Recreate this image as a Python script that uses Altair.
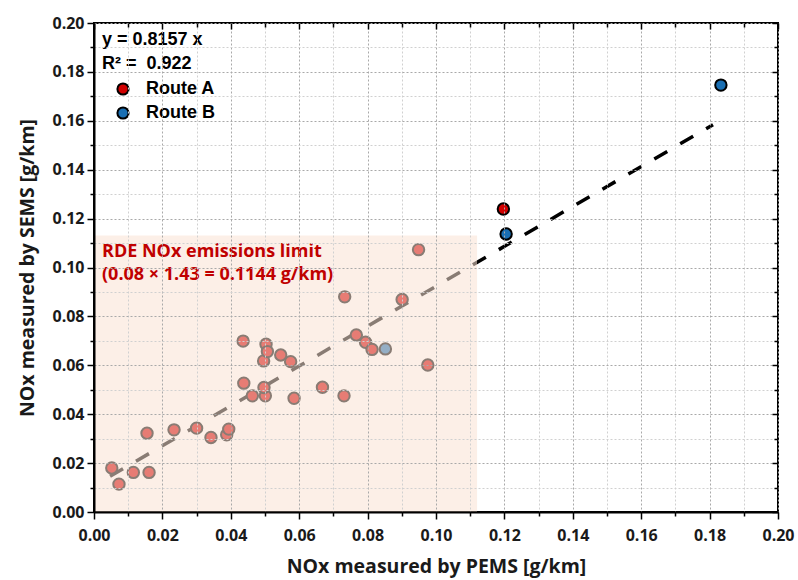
import altair as alt
import pandas as pd

# ---- data ----
route_a_x = [0.0052, 0.0073, 0.0115, 0.0161, 0.0155, 0.0234, 0.0300, 0.0342, 0.0388, 0.0394,
             0.0436, 0.0438, 0.0463, 0.0501, 0.0497, 0.0496, 0.0503, 0.0507, 0.0546, 0.0575,
             0.0585, 0.0668, 0.0733, 0.0731, 0.0767, 0.0794, 0.0813, 0.0901, 0.0949, 0.0976,
             0.1197]
route_a_y = [0.0180, 0.0114, 0.0162, 0.0162, 0.0322, 0.0336, 0.0343, 0.0305, 0.0316, 0.0339,
             0.0699, 0.0527, 0.0475, 0.0475, 0.0509, 0.0618, 0.0686, 0.0656, 0.0642, 0.0615,
             0.0465, 0.0510, 0.0880, 0.0475, 0.0724, 0.0694, 0.0665, 0.0869, 0.1073, 0.0601,
             0.1239]
route_b_x = [0.0852, 0.1205, 0.1833]
route_b_y = [0.0667, 0.1137, 0.1746]

fit_x = [0.0047, 0.1810]
fit_y = [0.0146, 0.1584]

limit_x = [0.0, 0.1120]
limit_y = [0.0, 0.1131]

tick_values = [0.00, 0.01, 0.02, 0.03, 0.04, 0.05, 0.06, 0.07, 0.08, 0.09, 0.10,
               0.11, 0.12, 0.13, 0.14, 0.15, 0.16, 0.17, 0.18, 0.19, 0.20]

legend_title = ["y = 0.8157 x", "R\u00b2 =\u00a0\u00a00.922"]
route_names = ["Route A", "Route B"]
route_colors = ["#d10000", "#1a6fb3"]
limit_label = "RDE NOx emissions limit\n(0.08 \u00d7 1.43 = 0.1144 g/km)"

# ---- tables ----
points = pd.DataFrame({
    "pems": route_a_x + route_b_x,
    "sems": route_a_y + route_b_y,
    "route": [route_names[0]] * len(route_a_x) + [route_names[1]] * len(route_b_x),
})
fit = pd.DataFrame({"pems": fit_x, "sems": fit_y})
limit = pd.DataFrame({"x0": [limit_x[0]], "x1": [limit_x[1]], "y0": [limit_y[0]], "y1": [limit_y[1]]})
note = pd.DataFrame({"label": [limit_label]})

major = "round(datum.value * 100) % 2 === 0"
FONT = "Open Sans"
xscale = alt.Scale(domain=[0, 0.2], nice=False, zero=False)
yscale = alt.Scale(domain=[0, 0.2], nice=False, zero=False)


def main_axis(title, title_pad, label_pad):
    return alt.Axis(
        values=tick_values,
        labelExpr=f"{major} ? format(datum.value, '.2f') : ''",
        labelOverlap=False,
        labelFlush=False,
        labelFont=FONT, labelFontSize=16, labelFontWeight="bold", labelColor="#1a1a1a",
        labelPadding=label_pad,
        tickColor="black", tickWidth=1.5,
        tickSize={"condition": {"test": major, "value": 7}, "value": 4},
        domainColor="black", domainWidth=2,
        grid=True,
        gridColor={"condition": {"test": major, "value": "#a9a9a9"}, "value": "#d0d0d0"},
        gridDash=[2, 2], gridWidth=1,
        title=title, titleFont=FONT, titleFontSize=19.5, titleFontWeight="bold",
        titleColor="#1a1a1a", titlePadding=title_pad,
        zindex=1,
    )


def inner_axis(orient):
    return alt.Axis(
        orient=orient,
        values=tick_values,
        labels=False, domain=False, grid=False,
        offset=-6, tickSize=6, tickColor="black", tickWidth=1.5,
        tickDash={"condition": {"test": major, "value": [6, 0]}, "value": [0, 2, 4]},
        title="",
        zindex=1,
    )


fit_layer = alt.Chart(fit).mark_line(
    color="black", strokeWidth=3.5, strokeDash=[15, 15]
).encode(
    x=alt.X("pems:Q", scale=xscale, axis=main_axis("NOx measured by PEMS [g/km]", 14, 8)),
    y=alt.Y("sems:Q", scale=yscale, axis=main_axis("NOx measured by SEMS [g/km]", 14, 3)),
)

point_layer = alt.Chart(points).mark_circle(
    size=130, opacity=1, stroke="black", strokeWidth=2
).encode(
    x=alt.X("pems:Q", scale=xscale, axis=None),
    y=alt.Y("sems:Q", scale=yscale, axis=None),
    color=alt.Color(
        "route:N",
        scale=alt.Scale(domain=route_names, range=route_colors),
        legend=alt.Legend(
            orient="none", legendX=8, legendY=8, padding=0,
            title=legend_title, titleFont="Liberation Sans", titleFontSize=18,
            titleFontWeight="bold", titleColor="black", titleLineHeight=24,
            titlePadding=7, titleAnchor="start",
            labelFont="Liberation Sans", labelFontSize=18, labelFontWeight="bold",
            labelColor="black", labelOffset=14,
            symbolType="circle", symbolSize=125, symbolStrokeColor="black",
            symbolStrokeWidth=2, symbolOffset=12, rowPadding=4,
        ),
    ),
)

limit_layer = alt.Chart(limit).mark_rect(
    color="#fae2d4", opacity=0.55
).encode(
    x=alt.X("x0:Q", scale=xscale, axis=inner_axis("top")),
    x2="x1:Q",
    y=alt.Y("y0:Q", scale=yscale, axis=inner_axis("right")),
    y2="y1:Q",
)

note_layer = alt.Chart(note).mark_text(
    align="left", baseline="top", font=FONT, fontSize=18, fontWeight="bold",
    color="#c00000", lineBreak="\n", lineHeight=23,
).encode(
    x=alt.value(8),
    y=alt.value(220),
    text="label:N",
)

chart = alt.layer(fit_layer, point_layer, limit_layer, note_layer).resolve_axis(
    x="independent", y="independent"
).properties(
    width=684, height=489,
    autosize=alt.AutoSizeParams(type="none"),
    padding={"left": 94, "top": 23, "right": 20, "bottom": 68},
    background="white",
).configure_view(stroke="black", strokeWidth=2)

chart.save("out.html", embed_options={"renderer": "svg", "actions": False})
